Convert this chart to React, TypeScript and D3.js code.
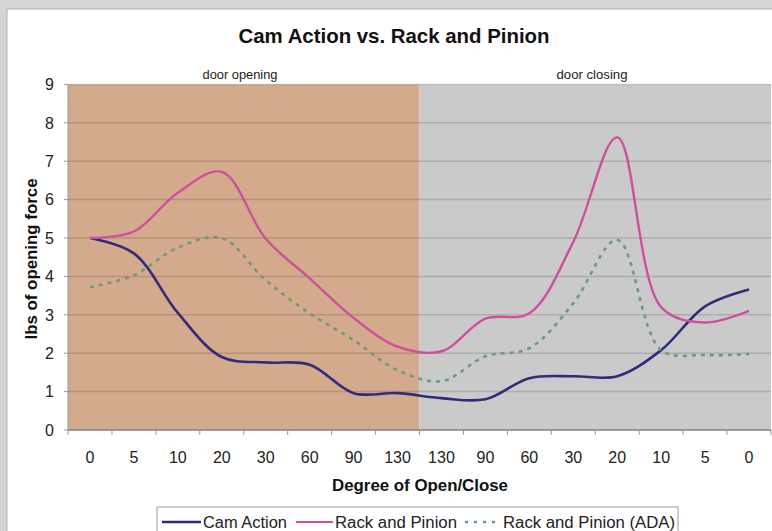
import React from "react";
import * as d3 from "d3";

const categories = ["0", "5", "10", "20", "30", "60", "90", "130", "130", "90", "60", "30", "20", "10", "5", "0"];
const camAction = [5.0, 4.6, 3.05, 1.9, 1.76, 1.7, 0.96, 0.96, 0.83, 0.8, 1.35, 1.4, 1.4, 2.08, 3.22, 3.66];
const rackPinion = [5.0, 5.17, 6.18, 6.72, 4.98, 3.95, 2.92, 2.17, 2.05, 2.9, 3.04, 4.9, 7.62, 3.2, 2.8, 3.1];
const rackPinionADA = [3.72, 4.03, 4.75, 5.0, 3.9, 3.04, 2.34, 1.56, 1.27, 1.92, 2.13, 3.3, 4.95, 2.08, 1.95, 1.98];
const yTicks = [0, 1, 2, 3, 4, 5, 6, 7, 8, 9];
const phases = ["door opening", "door closing"];
const seriesNames = ["Cam Action", "Rack and Pinion", "Rack and Pinion (ADA)"];
const title = "Cam Action vs. Rack and Pinion";
const xTitle = "Degree of Open/Close";
const yTitle = "lbs of opening force";

const W = 772;
const H = 531;
const FONT = "'Liberation Sans', Arial, sans-serif";

export default function App() {
  const idx = categories.map((_, i) => String(i));
  const x = d3.scaleBand<string>().domain(idx).range([68, 771]).padding(0);
  const y = d3.scaleLinear().domain([0, 9]).range([430, 84.4]);
  const bw = x.bandwidth();
  const cx = (i: number) => (x(String(i)) as number) + bw / 2;
  const line = d3
    .line<number>()
    .x((_, i) => cx(i))
    .y((d) => y(d))
    .curve(d3.curveCatmullRom.alpha(0.5));

  const split = x("8") as number;
  const left = x.range()[0];
  const right = x.range()[1];

  const series = [
    { name: seriesNames[0], data: camAction, color: "#2f2c7c", dash: undefined as string | undefined, w: 2.6 },
    { name: seriesNames[1], data: rackPinion, color: "#cf4f9f", dash: undefined, w: 2.4 },
    { name: seriesNames[2], data: rackPinionADA, color: "#6f9a78", dash: "4,5", w: 2.6 },
  ];

  return (
    <svg
      width={W}
      height={H}
      style={{ position: "absolute", left: 0, top: 0, fontFamily: FONT }}
    >
      <rect x={0} y={0} width={W} height={H} fill="#d5d5d5" />
      <rect x={7} y={9} width={W} height={H} fill="#ffffff" stroke="#b4b4b4" strokeWidth={1} />

      <text x={394} y={43} textAnchor="middle" fontSize={20} fontWeight="bold" fill="#111" textLength={311} lengthAdjust="spacingAndGlyphs">
        {title}
      </text>

      {/* shaded regions */}
      <rect x={left} y={y(9)} width={split - left} height={y(0) - y(9)} fill="#d4aa8c" />
      <rect x={split} y={y(9)} width={right - split} height={y(0) - y(9)} fill="#cacaca" />

      <text x={240} y={79} textAnchor="middle" fontSize={13} fill="#222" textLength={75} lengthAdjust="spacingAndGlyphs">
        {phases[0]}
      </text>
      <text x={592} y={79} textAnchor="middle" fontSize={13} fill="#222" textLength={71} lengthAdjust="spacingAndGlyphs">
        {phases[1]}
      </text>

      {/* gridlines */}
      {yTicks.map((t) => (
        <line key={"g" + t} x1={left} x2={right} y1={y(t)} y2={y(t)} stroke="#000" strokeOpacity={0.14} strokeWidth={1.5} />
      ))}

      {/* y axis */}
      <line x1={left} x2={left} y1={y(0)} y2={y(9)} stroke="#9a9a9a" strokeWidth={1} />
      {yTicks.map((t) => (
        <g key={"yt" + t}>
          <line x1={left - 4} x2={left} y1={y(t)} y2={y(t)} stroke="#9a9a9a" />
          <text x={54} y={y(t)} dy="0.36em" textAnchor="end" fontSize={16} fill="#222">
            {t}
          </text>
        </g>
      ))}

      {/* x axis */}
      <line x1={left} x2={right} y1={y(0)} y2={y(0)} stroke="#8a8a8a" strokeWidth={1.5} />
      {d3.range(categories.length + 1).map((i) => (
        <line key={"xt" + i} x1={left + i * bw} x2={left + i * bw} y1={y(0)} y2={y(0) + 5} stroke="#9a9a9a" />
      ))}
      {categories.map((c, i) => (
        <text key={"xl" + i} x={cx(i)} y={457} dy="0.36em" textAnchor="middle" fontSize={16} fill="#222">
          {c}
        </text>
      ))}

      <text x={420} y={491} textAnchor="middle" fontSize={17} fontWeight="bold" fill="#111" textLength={176} lengthAdjust="spacingAndGlyphs">
        {xTitle}
      </text>
      <text
        transform={`translate(37,259) rotate(-90)`}
        textAnchor="middle"
        fontSize={16.5}
        fontWeight="bold"
        fill="#111"
        textLength={161}
        lengthAdjust="spacingAndGlyphs"
      >
        {yTitle}
      </text>

      {/* series */}
      {series.map((s) => (
        <path
          key={s.name}
          d={line(s.data) || ""}
          fill="none"
          stroke={s.color}
          strokeWidth={s.w}
          strokeDasharray={s.dash}
          strokeLinejoin="round"
        />
      ))}

      {/* legend */}
      <rect x={157} y={507} width={521} height={40} fill="#fff" stroke="#9c9c9c" strokeWidth={1} />
      <line x1={162} x2={201} y1={522} y2={522} stroke={series[0].color} strokeWidth={2.4} />
      <text x={203} y={522} dy="0.36em" fontSize={16} fill="#222" textLength={84} lengthAdjust="spacingAndGlyphs">
        {seriesNames[0]}
      </text>
      <line x1={296} x2={333} y1={522} y2={522} stroke={series[1].color} strokeWidth={2.2} />
      <text x={335} y={522} dy="0.36em" fontSize={16} fill="#222" textLength={122} lengthAdjust="spacingAndGlyphs">
        {seriesNames[1]}
      </text>
      <line x1={465} x2={498} y1={522} y2={522} stroke={series[2].color} strokeWidth={2.4} strokeDasharray="3,6" />
      <text x={503} y={522} dy="0.36em" fontSize={16} fill="#222" textLength={172} lengthAdjust="spacingAndGlyphs">
        {seriesNames[2]}
      </text>
    </svg>
  );
}
